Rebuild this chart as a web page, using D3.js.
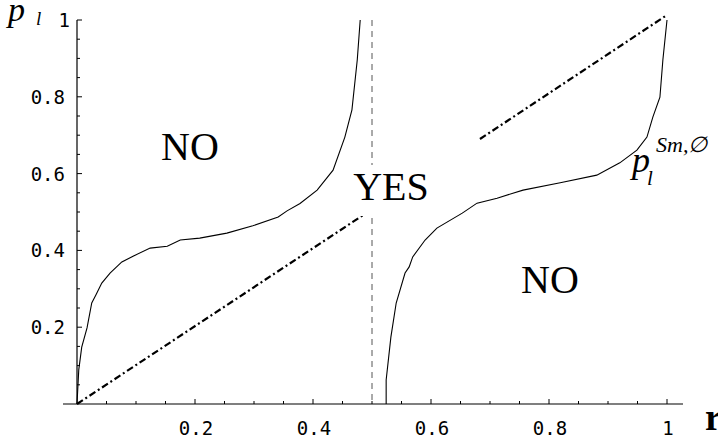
<!DOCTYPE html>
<html lang="en">
<head>
    <meta charset="utf-8">
    <title>p_l regions</title>
    <script src="https://d3js.org/d3.v7.min.js"></script>
    <style>
        body { margin: 0; background: #fff; }
        .tick-label { font-family: "DejaVu Sans Mono", monospace; font-size: 19px; fill: #000; }
        .big { font-family: "Liberation Serif", "Times New Roman", serif; fill: #000; }
    </style>
</head>
<body>
    <div id="chart"></div>
    <script>
        // curve: lower boundary of the YES region (left branch)
        const leftR = [0, 0.002, 0.003, 0.008, 0.017, 0.025, 0.032, 0.042, 0.056, 0.076, 0.095, 0.124, 0.153,
            0.175, 0.208, 0.254, 0.298, 0.341, 0.356, 0.378, 0.407, 0.434, 0.454, 0.466, 0.475, 0.480];
        const leftP = [0, 0.06, 0.089, 0.148, 0.198, 0.263, 0.284, 0.315, 0.341, 0.370, 0.385, 0.406, 0.411,
            0.427, 0.432, 0.445, 0.464, 0.487, 0.503, 0.522, 0.557, 0.609, 0.695, 0.766, 0.896, 1.0];

        // right branch, p_l^{Sm,Ø}
        const rightR = [0.524, 0.524, 0.532, 0.541, 0.556, 0.563, 0.569, 0.590, 0.610, 0.653, 0.678, 0.712,
            0.756, 0.819, 0.881, 0.920, 0.949, 0.966, 0.976, 0.988, 0.993, 1.0];
        const rightP = [0, 0.0625, 0.174, 0.263, 0.341, 0.357, 0.383, 0.427, 0.458, 0.497, 0.523, 0.536,
            0.557, 0.576, 0.596, 0.628, 0.661, 0.695, 0.747, 0.799, 0.896, 1.0];

        // dash-dot diagonals
        const diagLowR = [0, 0.49];
        const diagLowP = [0, 0.497];
        const diagHighR = [0.683, 1.0];
        const diagHighP = [0.69, 1.013];

        // dashed vertical at r = 1/2
        const midR = 0.5;

        const majorTicks = [0.2, 0.4, 0.6, 0.8, 1];
        const minorTicks = d3.range(1, 21).map((i) => i * 0.05);

        const width = 718,
            height = 444;

        const x = d3.scaleLinear().domain([0, 1]).range([77, 667]);
        const y = d3.scaleLinear().domain([0, 1]).range([404, 20]);

        const svg = d3.select("#chart")
            .append("svg")
            .attr("width", width)
            .attr("height", height);

        // axes lines
        svg.append("line")
            .attr("x1", 63).attr("x2", 683)
            .attr("y1", y(0)).attr("y2", y(0))
            .attr("stroke", "black").attr("stroke-width", 1.2);
        svg.append("line")
            .attr("x1", x(0)).attr("x2", x(0))
            .attr("y1", y(1)).attr("y2", y(0))
            .attr("stroke", "black").attr("stroke-width", 1.2);

        // ticks point inward
        svg.selectAll(".xtick")
            .data(minorTicks)
            .enter()
            .append("line")
            .attr("x1", (d) => x(d)).attr("x2", (d) => x(d))
            .attr("y1", y(0)).attr("y2", (d, i) => y(0) - ((i + 1) % 4 === 0 ? 5 : 3))
            .attr("stroke", "black");
        svg.selectAll(".ytick")
            .data(minorTicks)
            .enter()
            .append("line")
            .attr("x1", x(0)).attr("x2", (d, i) => x(0) + ((i + 1) % 4 === 0 ? 5 : 3))
            .attr("y1", (d) => y(d)).attr("y2", (d) => y(d))
            .attr("stroke", "black");

        svg.selectAll(".xlab")
            .data(majorTicks)
            .enter()
            .append("text")
            .attr("class", "tick-label")
            .attr("x", (d) => x(d) + 1)
            .attr("y", 435)
            .attr("text-anchor", "middle")
            .text((d) => d === 1 ? "1" : d.toFixed(1));
        svg.selectAll(".ylab")
            .data(majorTicks)
            .enter()
            .append("text")
            .attr("class", "tick-label")
            .attr("x", (d) => d === 1 ? 70 : 65)
            .attr("y", (d) => y(d) + 7)
            .attr("text-anchor", "end")
            .text((d) => d === 1 ? "1" : d.toFixed(1));

        const line = d3.line()
            .x((d) => x(d[0]))
            .y((d) => y(d[1]));

        svg.append("path")
            .datum(d3.zip(leftR, leftP))
            .attr("d", line)
            .attr("fill", "none").attr("stroke", "black").attr("stroke-width", 1.1);
        svg.append("path")
            .datum(d3.zip(rightR, rightP))
            .attr("d", line)
            .attr("fill", "none").attr("stroke", "black").attr("stroke-width", 1.1);

        [[diagLowR, diagLowP], [diagHighR, diagHighP]].forEach((pair) => {
            svg.append("path")
                .datum(d3.zip(pair[0], pair[1]))
                .attr("d", line)
                .attr("fill", "none")
                .attr("stroke", "black")
                .attr("stroke-width", 2.2)
                .attr("stroke-dasharray", "7,3,2,3");
        });

        svg.append("line")
            .attr("x1", x(midR)).attr("x2", x(midR))
            .attr("y1", y(1)).attr("y2", y(0))
            .attr("stroke", "#555").attr("stroke-width", 1)
            .attr("stroke-dasharray", "6,5");

        // region labels (the two NOs sit symmetric about the centre)
        svg.append("text").attr("class", "big")
            .attr("x", 190).attr("y", 160)
            .attr("text-anchor", "middle").attr("font-size", 40)
            .text("NO");
        svg.append("text").attr("class", "big")
            .attr("x", 550).attr("y", 293)
            .attr("text-anchor", "middle").attr("font-size", 40)
            .text("NO");
        // YES sits on a white box that cuts the dashed line
        const yes = svg.append("g");
        const yesBox = yes.append("rect").attr("fill", "white");
        const yesText = yes.append("text").attr("class", "big")
            .attr("x", 391).attr("y", 200)
            .attr("text-anchor", "middle").attr("font-size", 40)
            .text("YES");
        const bb = yesText.node().getBBox();
        yesBox.attr("x", bb.x - 2).attr("y", bb.y + 1)
            .attr("width", bb.width + 4).attr("height", bb.height + 6);

        // curve label p_l^{Sm,Ø}
        svg.append("text").attr("class", "big")
            .attr("x", 632).attr("y", 172)
            .attr("font-size", 36).attr("font-style", "italic")
            .text("p");
        svg.append("text").attr("class", "big")
            .attr("x", 647).attr("y", 185)
            .attr("font-size", 21).attr("font-style", "italic")
            .text("l");
        svg.append("text").attr("class", "big")
            .attr("x", 656).attr("y", 152)
            .attr("font-size", 22).attr("font-style", "italic")
            .text("Sm,\u2205");

        // axis titles
        svg.append("text").attr("class", "big")
            .attr("x", 8).attr("y", 21)
            .attr("font-size", 34).attr("font-style", "italic")
            .text("p");
        svg.append("text").attr("class", "big")
            .attr("x", 36).attr("y", 25)
            .attr("font-size", 19).attr("font-style", "italic")
            .text("l");
        svg.append("text").attr("class", "big")
            .attr("x", 705).attr("y", 430)
            .attr("font-size", 38).attr("font-weight", "bold")
            .text("r");
    </script>
</body>
</html>
